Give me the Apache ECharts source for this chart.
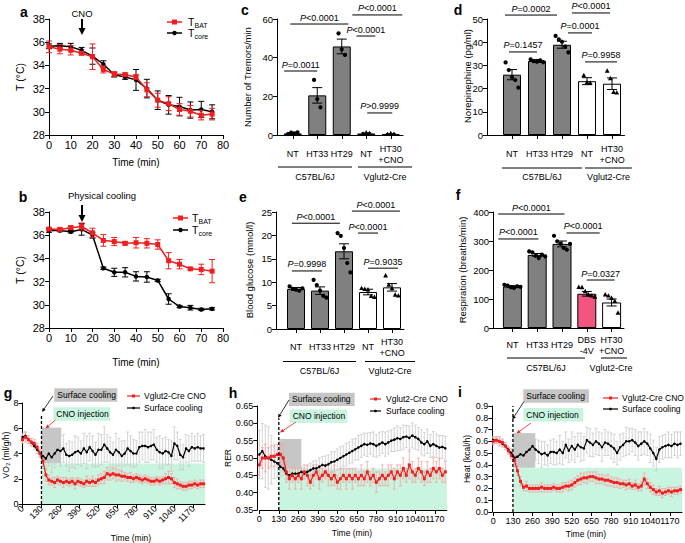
<!DOCTYPE html>
<html><head><meta charset="utf-8">
<script src="https://cdn.jsdelivr.net/npm/echarts@6/dist/echarts.min.js"></script>
<style>html,body{margin:0;padding:0;background:#fff}#c{width:685px;height:543px}</style>
</head><body><div id="c"></div>
<script>
// ---------------- DATA ----------------
// a / b : temperature time courses
const abTime = [0,5,10,15,20,25,30,35,40,45,50,55,60,65,70,75];
const aBat = [35.6,35.4,35.3,35.05,34.75,33.65,33.25,33.2,33.0,31.9,31.0,30.7,30.2,30.05,29.7,29.8];
const aBatErr = [0.5,0.4,0.4,0.15,1.1,0.3,0.2,0.15,0.2,0.6,0.6,0.6,0.5,0.5,0.4,0.5];
const aCore = [35.65,35.7,35.6,35.3,34.8,34.1,33.2,33.0,32.75,32.0,31.0,30.6,30.45,30.15,30.2,30.0];
const aCoreErr = [0.2,0.2,0.3,0.25,0.7,0.3,0.2,0.2,0.9,0.8,0.8,0.8,0.8,0.7,0.7,0.6];
const bBat = [36.53,36.5,36.65,36.75,36.2,35.55,35.45,35.3,35.35,35.3,35.2,33.8,33.5,33.1,33.05,32.9];
const bBatErr = [0.1,0.1,0.15,0.3,0.4,0.5,0.35,0.15,0.45,0.4,0.4,0.7,0.4,0.1,0.45,1.0];
const bCore = [36.4,36.4,36.3,36.5,36.0,33.15,32.8,32.8,32.45,32.4,32.1,30.5,29.85,29.75,29.6,29.65];
const bCoreErr = [0.15,0.1,0.1,0.5,0.25,0.1,0.35,0.4,0.4,0.45,0.1,0.45,0.1,0.2,0.1,0.1];

// c-f : bar charts
const catCDE = ['NT','HT33','HT29','NT','HT30\n+CNO'];
const catF = ['NT','HT33','HT29','DBS\n-4V','HT30\n+CNO'];
const groupNames = ['C57BL/6J','Vglut2-Cre'];

const cMean = [0.8,20.5,45.8,0.8,0.5];
const cSem = [0.3,4.0,3.8,0.3,0.2];
const cDots = [[0.5,1.2,0.9,1.4],[28.5,18.6,14.3],[52.6,44.3,41.4],[0.6,1.2,0.8],[0.4,0.8,0.5]];
const cSig = [[-0.35,1.0,33.1],[-0.1,2.27,57.4],[2.43,4.47,62.1],[2.6,3.37,51.2],[3.04,4.06,11.4]];
const cSigText = ['=0.0011','<0.0001','<0.0001','<0.0001','>0.9999'];

const dMean = [26.0,31.9,38.9,23.2,22.1];
const dSem = [2.2,0.6,1.5,1.5,2.5];
const dDots = [[31.3,28.0,24.9,23.7,20.4],[32.6,31.8,31.6,32.2,31.4],[42.7,41.2,40.2,38.1,35.6],[25.7,22.6,22.4],[27.6,24.4,18.5,18.2]];
const dSig = [[-0.28,1.8,51.7],[2.4,3.92,52.6],[2.24,3.2,44.0],[-0.12,1.0,35.8],[2.92,4.2,31.5]];
const dSigText = ['=0.0002','<0.0001','=0.0001','=0.1457','=0.9958'];

const eMean = [8.57,8.2,16.6,7.9,8.9];
const eSem = [0.3,0.8,1.6,0.6,0.8];
const eDots = [[9.1,8.6,8.4,8.2,8.7],[10.5,9.4,8.2,7.1,6.7],[20.5,19.9,17.3,14.1,12.1],[8.7,8.5,8.4,7.0,6.8],[11.4,9.4,8.7,7.3,7.1]];
const eSig = [[-0.17,1.83,22.6],[2.33,4.33,25.2],[2.58,3.42,20.5],[-0.17,1.08,12.4],[3.0,4.25,13.0]];
const eSigText = ['<0.0001','<0.0001','<0.0001','=0.9998','=0.9035'];

const fMean = [143,252,290,118,88];
const fSem = [3,5,10,8,12];
const fDots = [[149,146,141,138,144,142],[264,261,249,241,253,247],[318,299,291,276,270,290],[141,140,126,115,111,107],[115,111,103,92,52]];
const fSig = [[-0.57,2.1,393],[-0.57,1.05,307],[2.18,3.52,327.6],[3.0,4.12,165.5]];
const fSigText = ['<0.0001','<0.0001','<0.0001','=0.0327'];

// g-i : metabolic time courses
const tMin = [0,20,40,60,80,100,120,140,160,180,200,220,240,260,280,300,320,340,360,380,400,420,440,460,480,500,520,540,560,580,600,620,640,660,680,700,720,740,760,780,800,820,840,860,880,900,920,940,960,980,1000,1020,1040,1060,1080,1100,1120,1140,1160,1180,1200,1220,1240];
const timeTicks = [0,130,260,390,520,650,780,910,1040,1170];

const gRed = [5.1,5.3,5.1,4.9,4.8,4.5,4.0,3.4,2.3,1.9, 1.8,1.7,1.9,1.8,1.7,1.8,1.7,1.8,1.6,1.8, 1.7,1.6,1.8,1.7,1.8,1.7,1.9,2.0,2.1,2.4, 2.3,2.4,2.3,2.3,2.2,2.2,2.1,2.1,2.0,2.1, 2.0,1.9,2.0,1.9,1.8,1.8,1.9,1.8,1.9,2.0, 2.1,2.0,1.7,1.6,1.5,1.4,1.4,1.5,1.5,1.6, 1.5,1.6,1.6];
const gRedErr = [0.3,0.4,0.3,0.3,0.3,0.3,0.3,0.4,0.5,0.4, 0.3,0.4,0.3,0.3,0.4,0.3,0.3,0.3,0.4,0.3, 0.3,0.3,0.4,0.3,0.4,0.3,0.4,0.4,0.5,0.5, 0.4,0.4,0.5,0.4,0.4,0.3,0.3,0.4,0.3,0.3, 0.3,0.3,0.3,0.3,0.3,0.3,0.3,0.3,0.3,0.4, 0.5,0.4,0.4,0.4,0.3,0.3,0.3,0.3,0.3,0.3, 0.3,0.3,0.3];
const gBlack = [5.3,5.4,5.1,4.9,4.6,4.3,4.0,3.8,3.6,4.0, 3.7,4.0,4.3,4.2,4.4,3.9,3.8,3.9,4.1,4.2, 4.0,4.4,4.1,4.5,4.2,3.9,4.3,4.3,4.7,4.4, 4.1,3.9,4.3,4.1,3.8,4.0,4.4,4.2,4.0,4.0, 4.5,4.6,4.6,4.5,4.6,4.7,4.3,4.1,4.0,4.2, 4.1,3.8,4.8,4.6,3.9,3.7,4.4,4.2,4.5,4.4, 4.5,4.4,4.4];
const gBlackErr = [0.3,0.3,0.3,0.3,0.3,0.3,0.3,0.6,0.9,1.0, 1.2,1.1,1.0,1.2,1.1,0.9,1.2,1.0,1.3,1.1, 1.0,1.2,1.3,1.1,1.2,1.0,1.3,1.2,1.4,1.1, 1.2,1.0,1.3,1.1,1.2,1.0,1.3,1.2,1.1,1.0, 1.2,1.1,1.3,1.2,1.1,1.2,1.0,1.3,1.2,1.1, 1.0,1.2,1.3,1.1,1.2,1.0,1.1,1.2,1.1,1.0, 1.1,1.0,1.1];

const hRed = [0.48,0.50,0.50,0.50,0.505,0.505,0.51,0.51,0.50,0.46, 0.44,0.45,0.44,0.45,0.44,0.46,0.45,0.43,0.45,0.46, 0.44,0.45,0.46,0.45,0.44,0.45,0.43,0.44,0.45,0.44, 0.45,0.44,0.45,0.44,0.45,0.44,0.46,0.44,0.45,0.43, 0.44,0.45,0.44,0.45,0.46,0.44,0.46,0.45,0.47,0.45, 0.48,0.46,0.45,0.47,0.46,0.44,0.46,0.45,0.47,0.46, 0.47,0.45,0.46];
const hRedErr = [0.03,0.03,0.04,0.03,0.03,0.03,0.03,0.03,0.04,0.03, 0.03,0.02,0.03,0.02,0.03,0.02,0.03,0.02,0.03,0.02, 0.03,0.02,0.02,0.03,0.02,0.03,0.02,0.03,0.02,0.03, 0.02,0.03,0.02,0.02,0.03,0.02,0.03,0.02,0.02,0.03, 0.02,0.03,0.02,0.03,0.02,0.03,0.02,0.03,0.03,0.02, 0.04,0.03,0.02,0.03,0.03,0.02,0.03,0.02,0.03,0.03, 0.03,0.02,0.03];
const hBlack = [0.51,0.52,0.505,0.50,0.495,0.49,0.485,0.475,0.47,0.455, 0.45,0.455,0.455,0.455,0.46,0.455,0.46,0.465,0.47,0.47, 0.475,0.48,0.478,0.482,0.488,0.49,0.495,0.50,0.505,0.51, 0.515,0.52,0.525,0.53,0.535,0.54,0.538,0.542,0.54,0.535, 0.54,0.545,0.54,0.545,0.55,0.553,0.557,0.555,0.56,0.562, 0.558,0.565,0.56,0.555,0.545,0.54,0.548,0.535,0.54,0.535, 0.53,0.532,0.528];
const hBlackErr = [0.07,0.08,0.09,0.09,0.07,0.05,0.04,0.03,0.02,0.015, 0.012,0.012,0.014,0.012,0.015,0.016,0.018,0.02,0.021,0.022, 0.025,0.024,0.028,0.027,0.03,0.029,0.031,0.032,0.03,0.033, 0.032,0.034,0.031,0.035,0.033,0.032,0.034,0.031,0.035,0.033, 0.034,0.032,0.035,0.033,0.031,0.034,0.036,0.033,0.035,0.032, 0.034,0.036,0.035,0.033,0.036,0.034,0.035,0.033,0.036,0.034, 0.035,0.033,0.034];

const iRed = [0.60,0.61,0.60,0.59,0.56,0.52,0.48,0.44,0.35,0.26, 0.21,0.22,0.20,0.20,0.20,0.20,0.21,0.20,0.20,0.20, 0.21,0.20,0.20,0.21,0.22,0.22,0.23,0.25,0.27,0.28, 0.29,0.29,0.30,0.30,0.29,0.28,0.28,0.27,0.27,0.26, 0.25,0.25,0.24,0.24,0.23,0.24,0.22,0.23,0.21,0.22, 0.28,0.24,0.21,0.19,0.17,0.18,0.16,0.17,0.18,0.17, 0.18,0.18,0.19];
const iRedErr = [0.03,0.03,0.04,0.03,0.03,0.03,0.03,0.04,0.04,0.04, 0.03,0.04,0.03,0.03,0.03,0.03,0.04,0.03,0.03,0.03, 0.03,0.03,0.03,0.04,0.03,0.04,0.04,0.04,0.04,0.05, 0.04,0.05,0.04,0.04,0.05,0.04,0.04,0.04,0.05,0.04, 0.04,0.04,0.04,0.03,0.04,0.04,0.03,0.04,0.03,0.04, 0.05,0.04,0.04,0.04,0.03,0.04,0.04,0.03,0.03,0.04, 0.03,0.03,0.03];
const iBlack = [0.61,0.61,0.60,0.58,0.56,0.53,0.50,0.46,0.47,0.49, 0.48,0.51,0.53,0.56,0.53,0.51,0.49,0.50,0.48,0.51, 0.51,0.50,0.53,0.50,0.57,0.52,0.56,0.53,0.57,0.55, 0.54,0.61,0.59,0.57,0.60,0.58,0.55,0.59,0.58,0.56, 0.54,0.50,0.55,0.57,0.60,0.60,0.61,0.59,0.56,0.58, 0.60,0.58,0.54,0.50,0.45,0.53,0.55,0.56,0.57,0.56, 0.58,0.57,0.58];
const iBlackErr = [0.03,0.03,0.03,0.03,0.03,0.03,0.04,0.06,0.09,0.1, 0.1,0.09,0.11,0.1,0.09,0.1,0.11,0.1,0.09,0.1, 0.11,0.1,0.12,0.1,0.11,0.1,0.12,0.11,0.1,0.12, 0.1,0.11,0.12,0.1,0.11,0.1,0.12,0.11,0.1,0.11, 0.12,0.1,0.11,0.1,0.12,0.11,0.1,0.11,0.12,0.1, 0.11,0.1,0.12,0.11,0.1,0.11,0.1,0.1,0.11,0.1, 0.1,0.11,0.1];

// ---------------- STYLE ----------------
const FONT = '"Liberation Sans", Arial, Helvetica, sans-serif';
const RED = '#f01e1e', PINK = '#f5a3a3', LGRAY = '#c9c9c9', BARGRAY = '#808080', DBSPINK = '#f2557f';
const MINT = '#c9f4e0', BOXGRAY = '#c6c6c6';

// ---------------- HELPERS ----------------
function vAxis(gi, min, max, interval, fs, extra) {
  return Object.assign({
    type: 'value', gridIndex: gi, min, max, interval,
    splitLine: {show: false},
    axisLine: {show: true, onZero: false, lineStyle: {color: '#000', width: 1}},
    axisTick: {show: true, length: 4, lineStyle: {color: '#000', width: 1}},
    axisLabel: {color: '#000', fontSize: fs, fontFamily: FONT, margin: 4}
  }, extra || {});
}
function cAxis(gi, data, margin) {
  return {
    type: 'category', gridIndex: gi, data,
    splitLine: {show: false},
    axisLine: {show: true, onZero: false, lineStyle: {color: '#000', width: 1}},
    axisTick: {show: true, alignWithLabel: true, interval: 0, length: 4, lineStyle: {color: '#000'}},
    axisLabel: {interval: 0, color: '#000', fontSize: 9, fontFamily: FONT, margin, verticalAlign: 'middle', lineHeight: 11}
  };
}
function errSeries(xi, x, m, e, color, cap, lw, z) {
  return {
    type: 'custom', xAxisIndex: xi, yAxisIndex: xi, silent: true, clip: false, z,
    data: x.map((t, i) => [t, m[i] - e[i], m[i] + e[i]]),
    encode: {x: 0, y: [1, 2]},
    renderItem: (p, api) => {
      const a = api.coord([api.value(0), api.value(1)]);
      const b = api.coord([api.value(0), api.value(2)]);
      const st = {stroke: color, lineWidth: lw};
      return {type: 'group', children: [
        {type: 'line', shape: {x1: a[0], y1: a[1], x2: b[0], y2: b[1]}, style: st},
        {type: 'line', shape: {x1: a[0] - cap, y1: a[1], x2: a[0] + cap, y2: a[1]}, style: st},
        {type: 'line', shape: {x1: b[0] - cap, y1: b[1], x2: b[0] + cap, y2: b[1]}, style: st}
      ]};
    }
  };
}
function lineSeries(xi, x, y, color, symbol, size, lw, z) {
  return {
    type: 'line', xAxisIndex: xi, yAxisIndex: xi, silent: true, z,
    data: x.map((t, i) => [t, y[i]]),
    symbol, symbolSize: size, showSymbol: true,
    lineStyle: {color, width: lw}, itemStyle: {color, borderWidth: 0}
  };
}
function barSeries(xi, means, colors, w) {
  return {
    type: 'bar', xAxisIndex: xi, yAxisIndex: xi, silent: true, z: 2, barWidth: w,
    data: means.map((v, i) => ({value: v, itemStyle: {color: colors[i], borderColor: '#000', borderWidth: 1}}))
  };
}
function semSeries(xi, means, sems, cap) {
  return errSeries(xi, means.map((v, i) => i), means, sems, '#000', cap, 1, 4);
}
function dotSeries(xi, dots, shapes) {
  const data = [];
  dots.forEach((arr, c) => arr.forEach((v, j) => data.push([c, v, j, arr.length])));
  return {
    type: 'custom', xAxisIndex: xi, yAxisIndex: xi, silent: true, clip: false, z: 5,
    data, encode: {x: 0, y: 1},
    renderItem: (p, api) => {
      const c = api.value(0), pt = api.coord([c, api.value(1)]);
      const x = pt[0] + (api.value(2) - (api.value(3) - 1) / 2) * 3.2, y = pt[1];
      if (shapes[c] === 't') return {type: 'polygon', shape: {points: [[x, y - 2.6], [x - 2.4, y + 1.8], [x + 2.4, y + 1.8]]}, style: {fill: '#000'}};
      return {type: 'circle', shape: {cx: x, cy: y, r: 2.1}, style: {fill: '#000'}};
    }
  };
}
function sigSeries(xi, sig, texts) {
  return {
    type: 'custom', xAxisIndex: xi, yAxisIndex: xi, silent: true, clip: false, z: 6,
    data: sig.map(s => [0, s[2], s[0], s[1]]), encode: {x: 0, y: 1},
    renderItem: (p, api) => {
      const y = api.value(1);
      const p0 = api.coord([0, y]), p1 = api.coord([1, y]);
      const step = p1[0] - p0[0];
      const x1 = p0[0] + api.value(2) * step, x2 = p0[0] + api.value(3) * step, py = p0[1];
      return {type: 'group', children: [
        {type: 'line', shape: {x1, y1: py, x2, y2: py}, style: {stroke: '#000', lineWidth: 1}},
        {type: 'text', x: (x1 + x2) / 2, y: py - 2, style: {
          text: '{i|P}' + texts[p.dataIndex], fill: '#000', fontSize: 9, fontFamily: FONT,
          align: 'center', verticalAlign: 'bottom',
          rich: {i: {fontStyle: 'italic', fontSize: 9, fontFamily: FONT, fill: '#000'}}}}
      ]};
    }
  };
}
function rectSeries(xi, boxes, colors) {
  return {
    type: 'custom', xAxisIndex: xi, yAxisIndex: xi, silent: true, clip: false, z: 1,
    data: boxes, encode: {x: [0, 2], y: [1, 3]},
    renderItem: (p, api) => {
      const a = api.coord([api.value(0), api.value(3)]), b = api.coord([api.value(2), api.value(1)]);
      return {type: 'rect', shape: {x: a[0], y: a[1], width: b[0] - a[0], height: b[1] - a[1]}, style: {fill: colors[p.dataIndex]}};
    }
  };
}
function dashSeries(xi, v) {
  return {
    type: 'custom', xAxisIndex: xi, yAxisIndex: xi, silent: true, clip: false, z: 6,
    data: [v], encode: {x: 0, y: [1, 2]},
    renderItem: (p, api) => {
      const a = api.coord([api.value(0), api.value(1)]), b = api.coord([api.value(0), api.value(2)]);
      return {type: 'line', shape: {x1: a[0], y1: a[1], x2: b[0], y2: b[1]}, style: {stroke: '#000', lineWidth: 1.3, lineDash: [3, 2]}};
    }
  };
}
// graphic helpers
function T(x, y, text, size, opt) {
  opt = opt || {};
  return {type: 'text', x, y, rotation: opt.rot || 0, z: 100, style: {
    text, fill: opt.fill || '#000', font: (opt.weight || 'normal') + ' ' + size + 'px ' + FONT,
    textAlign: opt.align || 'center', textVerticalAlign: 'middle'}};
}
function L(x1, y1, x2, y2, color, lw) {
  return {type: 'line', z: 100, shape: {x1, y1, x2, y2}, style: {stroke: color || '#000', lineWidth: lw || 1}};
}
function ARR(x1, y1, x2, y2, color, lw, hl, hw) {
  const a = Math.atan2(y2 - y1, x2 - x1);
  const bx = x2 - hl * Math.cos(a), by = y2 - hl * Math.sin(a);
  const px = -Math.sin(a) * hw, py = Math.cos(a) * hw;
  return [L(x1, y1, bx, by, color, lw),
    {type: 'polygon', z: 100, shape: {points: [[x2, y2], [bx + px, by + py], [bx - px, by - py]]}, style: {fill: color}}];
}
function RECT(x, y, w, h, fill) {
  return {type: 'rect', z: 99, shape: {x, y, width: w, height: h}, style: {fill}};
}

// ---------------- OPTION ----------------
const grids = [
  {left: 49, top: 19, width: 174, height: 116},
  {left: 49, top: 212, width: 174, height: 116},
  {left: 280.5, top: 19, width: 122.5, height: 116},
  {left: 499.5, top: 19, width: 125, height: 116},
  {left: 284, top: 212, width: 120, height: 117},
  {left: 500, top: 212, width: 124, height: 116},
  {left: 22.5, top: 403, width: 182.5, height: 101},
  {left: 259.3, top: 406, width: 187.5, height: 104},
  {left: 493.3, top: 406, width: 188.7, height: 106}
].map(g => Object.assign({containLabel: false, outerBoundsMode: 'none'}, g));

const timeAxis = (gi, rot) => vAxis(gi, 0, 1250, null, 9, {
  axisTick: {show: true, length: 4, customValues: timeTicks, lineStyle: {color: '#000'}},
  axisLabel: {color: '#000', fontSize: 9, fontFamily: FONT, margin: rot ? 3 : 4, rotate: rot || 0,
    customValues: timeTicks, hideOverlap: false, formatter: v => String(v)}
});

const xAxis = [
  vAxis(0, 0, 80, 10, 11), vAxis(1, 0, 80, 10, 11),
  cAxis(2, catCDE, 19), cAxis(3, catCDE, 19), cAxis(4, catCDE, 18), cAxis(5, catF, 17),
  timeAxis(6, 45), timeAxis(7, 0), timeAxis(8, 0)
];
const yAxis = [
  vAxis(0, 28, 38, 2, 11), vAxis(1, 28, 38, 2, 11),
  vAxis(2, 0, 60, 20, 9.5, {offset: 3.5}), vAxis(3, 0, 50, 10, 9.5, {offset: 12.5}),
  vAxis(4, 0, 25, 5, 9.5, {offset: 8}), vAxis(5, 0, 400, 100, 9.5, {offset: 7}),
  vAxis(6, 0, 8, 2, 9),
  vAxis(7, 0.35, 0.65, 0.05, 9, {offset: 2}),
  vAxis(8, 0, 0.9, 0.1, 9, {offset: 1})
];
yAxis[7].axisLabel.formatter = v => v.toFixed(2);
yAxis[8].axisLabel.formatter = v => v.toFixed(1);

const bw = [BARGRAY, BARGRAY, BARGRAY, '#fff', '#fff'];
const fColors = [BARGRAY, BARGRAY, BARGRAY, DBSPINK, '#fff'];
const shapes = ['c', 'c', 'c', 't', 't'];

const series = [
  // a
  errSeries(0, abTime, aCore, aCoreErr, '#000', 3, 1, 3), lineSeries(0, abTime, aCore, '#000', 'circle', 4.5, 1.5, 4),
  errSeries(0, abTime, aBat, aBatErr, RED, 3, 1, 5), lineSeries(0, abTime, aBat, RED, 'rect', 5, 1.5, 6),
  // b
  errSeries(1, abTime, bCore, bCoreErr, '#000', 3, 1, 3), lineSeries(1, abTime, bCore, '#000', 'circle', 4.5, 1.5, 4),
  errSeries(1, abTime, bBat, bBatErr, RED, 3, 1, 5), lineSeries(1, abTime, bBat, RED, 'rect', 5, 1.5, 6),
  // c
  barSeries(2, cMean, bw, 18), semSeries(2, cMean, cSem, 5), dotSeries(2, cDots, shapes), sigSeries(2, cSig, cSigText),
  // d
  barSeries(3, dMean, bw, 18), semSeries(3, dMean, dSem, 5), dotSeries(3, dDots, shapes), sigSeries(3, dSig, dSigText),
  // e
  barSeries(4, eMean, bw, 18), semSeries(4, eMean, eSem, 5), dotSeries(4, eDots, shapes), sigSeries(4, eSig, eSigText),
  // f
  barSeries(5, fMean, fColors, 19), semSeries(5, fMean, fSem, 5), dotSeries(5, fDots, shapes), sigSeries(5, fSig, fSigText),
  // g
  rectSeries(6, [[130, 3.2, 265, 6.05], [130, 0, 1250, 3.2]], [BOXGRAY, MINT]),
  errSeries(6, tMin, gBlack, gBlackErr, LGRAY, 1.5, 0.8, 2), errSeries(6, tMin, gRed, gRedErr, PINK, 1.5, 0.8, 3),
  lineSeries(6, tMin, gBlack, '#000', 'circle', 2.5, 1.2, 4), lineSeries(6, tMin, gRed, RED, 'rect', 3, 1.2, 5),
  dashSeries(6, [130, 0, 7.06]),
  // h
  rectSeries(7, [[130, 0.47, 280, 0.555], [130, 0.35, 1250, 0.47]], [BOXGRAY, MINT]),
  errSeries(7, tMin, hBlack, hBlackErr, LGRAY, 1.5, 0.8, 2), errSeries(7, tMin, hRed, hRedErr, PINK, 1.5, 0.8, 3),
  lineSeries(7, tMin, hBlack, '#000', 'circle', 2.5, 1.2, 4), lineSeries(7, tMin, hRed, RED, 'rect', 3, 1.2, 5),
  dashSeries(7, [130, 0.35, 0.615]),
  // i
  rectSeries(8, [[130, 0.375, 278, 0.67], [130, 0, 1250, 0.375]], [BOXGRAY, MINT]),
  errSeries(8, tMin, iBlack, iBlackErr, LGRAY, 1.5, 0.8, 2), errSeries(8, tMin, iRed, iRedErr, PINK, 1.5, 0.8, 3),
  lineSeries(8, tMin, iBlack, '#000', 'circle', 2.5, 1.2, 4), lineSeries(8, tMin, iRed, RED, 'rect', 3, 1.2, 5),
  dashSeries(8, [130, 0, 0.9])
];

// ---------------- GRAPHIC (labels, legends, annotations) ----------------
const G = [];
const R90 = Math.PI / 2;
// panel letters
[['a', 24, 12], ['b', 23, 197], ['c', 245, 10], ['d', 458, 10], ['e', 243, 197], ['f', 458, 195], ['g', 8, 393], ['h', 233, 393], ['i', 460, 392]]
  .forEach(p => G.push(T(p[1], p[2], p[0], 14, {weight: 'bold'})));
// axis titles
G.push(T(20, 77, 'T (°C)', 10.5, {rot: R90}), T(20, 270, 'T (°C)', 10.5, {rot: R90}));
G.push(T(136, 162, 'Time (min)', 10), T(136, 362, 'Time (min)', 10));
G.push(T(247, 77, 'Number of Tremors/min', 9.5, {rot: R90}));
G.push(T(467, 76, 'Norepinephine (pg/ml)', 9.5, {rot: R90}));
G.push(T(249, 270, 'Blood glucose (mmol/l)', 9.5, {rot: R90}));
G.push(T(462, 270, 'Respiration (breaths/min)', 9.5, {rot: R90}));
G.push(T(6, 455, 'VO₂ (ml/g/h)', 8.5, {rot: R90}));
G.push(T(228, 458, 'RER', 8.5, {rot: R90}));
G.push(T(467, 459, 'Heat (kcal/h)', 8.5, {rot: R90}));
G.push(T(131, 538, 'Time (min)', 8.5), T(352, 533, 'Time (min)', 8.5), T(586, 534, 'Time (min)', 8.5));
// a/b arrows
G.push(T(82, 13, 'CNO', 9.5), ...ARR(82, 19, 82, 35, '#000', 2, 7, 3.5));
G.push(T(102, 195, 'Physical cooling', 9.5), ...ARR(82, 205, 82, 222, '#000', 2, 7, 3.5));
// a/b legends
function legAB(x1, x2, tx, yR, yB) {
  G.push(L(x1, yR, x2, yR, RED, 1.5), RECT((x1 + x2) / 2 - 2.5, yR - 2.5, 5, 5, RED));
  G.push(T(tx, yR, 'T', 10.5, {align: 'left'}), T(tx + 6.5, yR + 3, 'BAT', 7, {align: 'left'}));
  G.push(L(x1, yB, x2, yB, '#000', 1.5), {type: 'circle', z: 100, shape: {cx: (x1 + x2) / 2, cy: yB, r: 2.2}, style: {fill: '#000'}});
  G.push(T(tx, yB, 'T', 10.5, {align: 'left'}), T(tx + 6.5, yB + 3, 'core', 7, {align: 'left'}));
}
legAB(167, 182, 188, 22, 33);
legAB(173, 188, 192, 218, 230);
// group lines under bar charts
function groups(y, l1, l2, ty) {
  G.push(L(l1[0], y, l1[1], y), T((l1[0] + l1[1]) / 2, ty, groupNames[0], 9));
  G.push(L(l2[0], y, l2[1], y), T((l2[0] + l2[1]) / 2 + (l2[2] || 0), ty, groupNames[1], 9));
}
groups(167, [278, 352], [358, 412], 177);
groups(168, [502, 582], [585, 632], 177);
groups(361.5, [283, 356], [365, 415], 371);
groups(358, [507, 585], [601, 627, -3], 368);
// close x-axis lines to the y axis
G.push(L(277, 135.5, 281, 135.5), L(487, 135.5, 500, 135.5), L(276, 329.5, 284.5, 329.5), L(493, 328.5, 500.5, 328.5));
// g-i legends and annotations
function legGI(x1, x2, tx, yR, yB) {
  G.push(L(x1, yR, x2, yR, RED, 1.2), RECT((x1 + x2) / 2 - 1.5, yR - 1.5, 3, 3, RED), T(tx, yR, 'Vglut2-Cre CNO', 8.5, {align: 'left'}));
  G.push(L(x1, yB, x2, yB, '#000', 1.2), {type: 'circle', z: 100, shape: {cx: (x1 + x2) / 2, cy: yB, r: 1.3}, style: {fill: '#000'}}, T(tx, yB, 'Surface cooling', 8.5, {align: 'left'}));
}
legGI(127, 140, 144, 396, 408);
legGI(370, 381, 386, 399, 411);
legGI(603, 618, 622, 398, 409);
function annot(gx, gy, gw, mx, my, mw, blk, red) {
  G.push(RECT(gx, gy, gw, 13.4, BOXGRAY), T(gx + 3, gy + 6.7, 'Surface cooling', 8.5, {align: 'left'}));
  G.push(RECT(mx, my, mw, 13.4, MINT), T(mx + 3, my + 6.7, 'CNO injection', 8.5, {align: 'left'}));
  G.push(...ARR(blk[0], blk[1], blk[2], blk[3], '#000', 0.8, 4, 1.8));
  G.push(...ARR(red[0], red[1], red[2], red[3], RED, 0.8, 4, 1.8));
}
annot(54.3, 388.3, 63, 53.3, 407.3, 56.7, [53, 396, 42, 412], [55.5, 420, 45.5, 428.5]);
annot(289, 392.7, 65.7, 289.7, 409.5, 57.6, [289, 400, 278, 418], [296, 422, 280, 432.5]);
annot(523.3, 389.3, 65.7, 523.3, 408, 60, [524, 401.5, 512.3, 419.5], [531, 423, 516.5, 433.5]);

const option = {
  animation: false,
  backgroundColor: '#fff',
  textStyle: {fontFamily: FONT},
  grid: grids, xAxis, yAxis, series, graphic: G
};
const chart = echarts.init(document.getElementById('c'), null, {renderer: 'svg', width: 685, height: 543});
chart.setOption(option);
</script></body></html>
